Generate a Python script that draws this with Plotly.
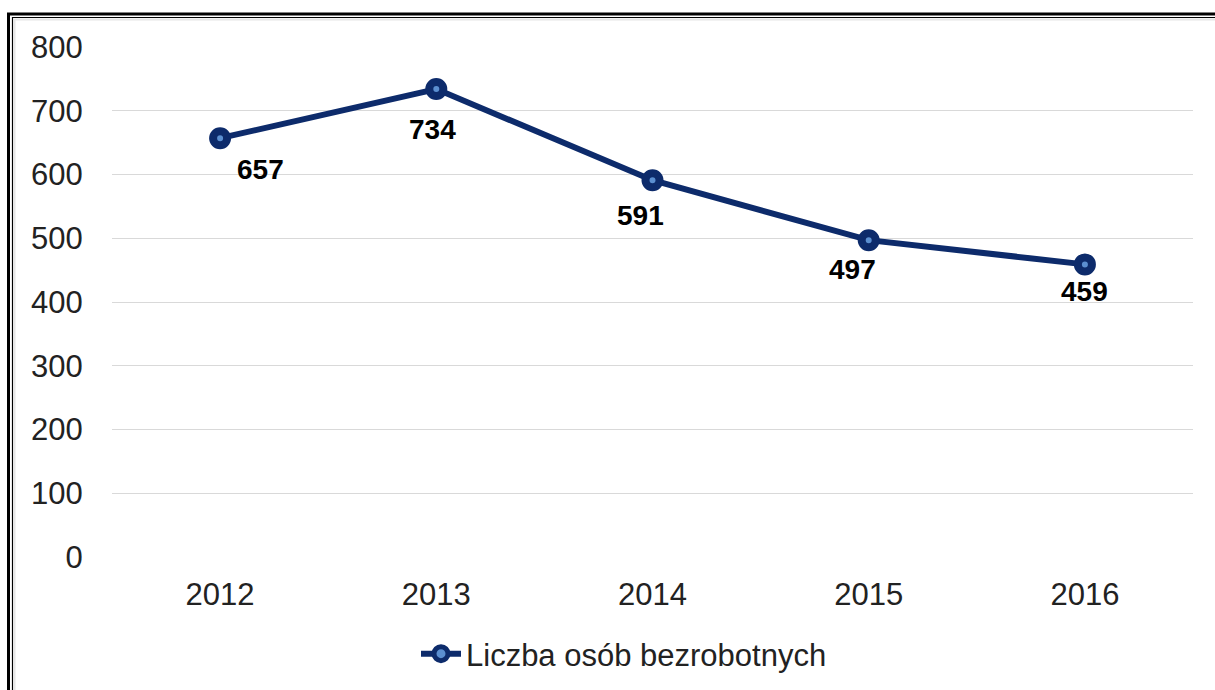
import plotly.graph_objects as go

years = ["2012", "2013", "2014", "2015", "2016"]
values = [657, 734, 591, 497, 459]
series_name = "Liczba osób bezrobotnych"
y_ticks = [0, 100, 200, 300, 400, 500, 600, 700, 800]

# label offsets in px (xshift, yshift)
label_dx = [40, -4, -12, -16, 0]
label_dy = [-31, -40, -35, -29, -27]

W, H = 1215, 690
L, R, T, B = 112, 22, 47, 133
pw, ph = W - L - R, H - T - B

def px(x):
    return (x - L) / pw

def py(y):
    return (H - B - y) / ph

NAVY = "#0d2b6b"

fig = go.Figure()
fig.add_trace(go.Scatter(
    x=years, y=values, mode="lines+markers", name=series_name,
    line=dict(color=NAVY, width=6),
    marker=dict(symbol="circle", size=14, color="#5b8fd0",
                line=dict(color=NAVY, width=8)),
    cliponaxis=False,
))

for i, v in enumerate(values):
    fig.add_annotation(x=i, y=v, xref="x", yref="y", text=f"<b>{v}</b>", showarrow=False,
                       xshift=label_dx[i], yshift=label_dy[i],
                       font=dict(family="Liberation Sans, Arial", size=28, color="#000000"))

shapes = []
shapes.append(dict(type="path", xref="paper", yref="paper", layer="below",
                   path=f"M {px(8.5)} {py(720)} L {px(8.5)} {py(14)} L {px(1260)} {py(14)}",
                   line=dict(color="#000000", width=3)))
shapes.append(dict(type="path", xref="paper", yref="paper", layer="below",
                   path=f"M {px(12.5)} {py(720)} L {px(12.5)} {py(17.5)} L {px(1260)} {py(17.5)}",
                   line=dict(color="#000000", width=1.2)))
shapes.append(dict(type="path", xref="paper", yref="paper", layer="below",
                   path=f"M {px(14.5)} {py(720)} L {px(14.5)} {py(19.5)} L {px(1260)} {py(19.5)}",
                   line=dict(color="#e6e6e6", width=2)))
fig.update_layout(shapes=shapes)

fig.update_layout(
    width=W, height=H,
    margin=dict(l=L, r=R, t=T, b=B, autoexpand=False),
    paper_bgcolor="#ffffff", plot_bgcolor="#ffffff",
    font=dict(family="Liberation Sans, Arial", size=31, color="#222222"),
    showlegend=True,
    legend=dict(orientation="h", x=px(416), xanchor="left", y=py(654), yanchor="middle",
                font=dict(size=31, color="#222222"), itemwidth=40,
                bgcolor="rgba(0,0,0,0)"),
    xaxis=dict(type="category", range=[-0.5, 4.5], showgrid=False, zeroline=False,
               showline=False, ticks="outside", ticklen=10, tickcolor="rgba(0,0,0,0)",
               tickfont=dict(size=31, color="#222222")),
    yaxis=dict(range=[0, 800], tickvals=y_ticks, showgrid=True, gridcolor="#d9d9d9",
               gridwidth=1, zeroline=False, showline=False, ticks="outside", ticklen=22,
               tickcolor="rgba(0,0,0,0)", tickfont=dict(size=31, color="#222222")),
)

fig.write_html("out.html", config={"displayModeBar": False},
               post_script="document.body.style.margin='0';")
